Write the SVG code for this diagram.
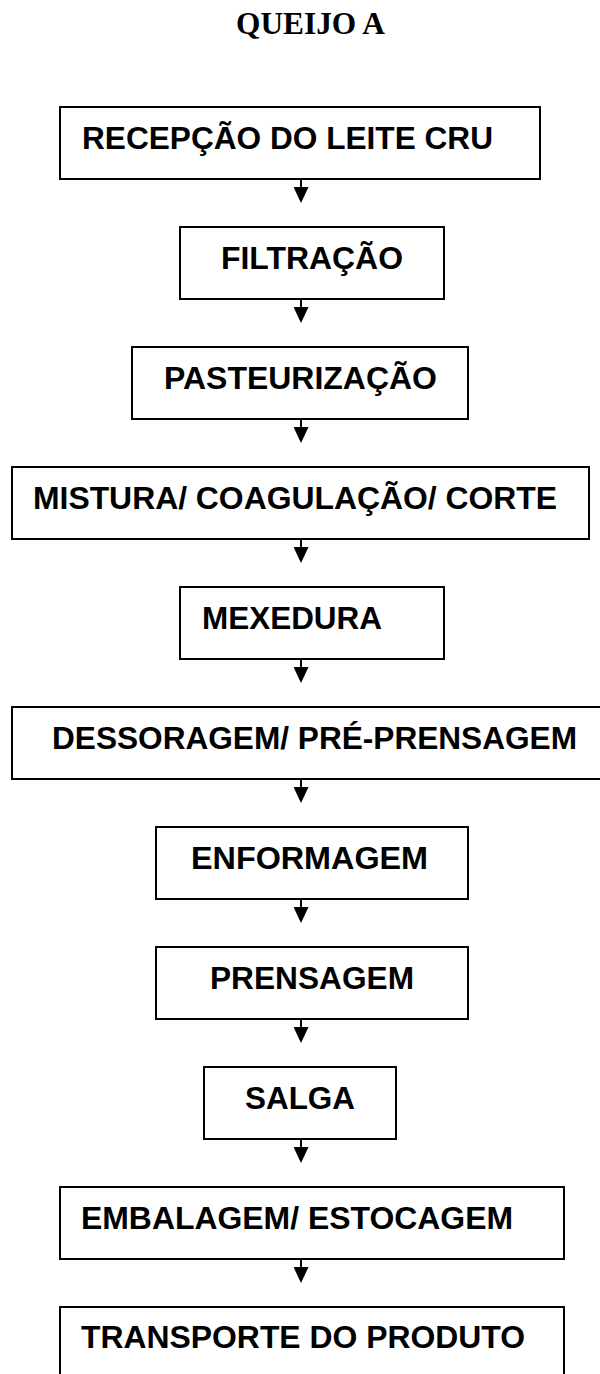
<svg xmlns="http://www.w3.org/2000/svg" width="600" height="1374" viewBox="0 0 600 1374">
<style>
.box{fill:#fff;stroke:#000;stroke-width:2}
.lbl{font-family:"Liberation Sans",Arial,sans-serif;font-weight:bold;font-size:31px;fill:#000}
.title{font-family:"Liberation Serif","Times New Roman",serif;font-weight:bold;font-size:31px;fill:#000}
.conn{stroke:#000;stroke-width:2;fill:none}
</style>
<defs>
<marker id="ah" markerUnits="userSpaceOnUse" viewBox="0 0 16 15" refX="4" refY="7.5" markerWidth="16" markerHeight="15" orient="auto">
<path d="M0,0 L16,7.5 L0,15 Z" fill="#000"/>
</marker>
</defs>
<rect width="600" height="1374" fill="#fff"/>
<text class="title" x="236" y="34" textLength="149" lengthAdjust="spacingAndGlyphs">QUEIJO A</text>
<g id="n1"><rect class="box" x="60" y="107" width="480" height="72"/><text class="lbl" x="82" y="149" textLength="411" lengthAdjust="spacingAndGlyphs">RECEPÇÃO DO LEITE CRU</text></g>
<g id="n2"><rect class="box" x="180" y="227" width="264" height="72"/><text class="lbl" x="221" y="269" textLength="182" lengthAdjust="spacingAndGlyphs">FILTRAÇÃO</text></g>
<g id="n3"><rect class="box" x="132" y="347" width="336" height="72"/><text class="lbl" x="164" y="389" textLength="273" lengthAdjust="spacingAndGlyphs">PASTEURIZAÇÃO</text></g>
<g id="n4"><rect class="box" x="12" y="467" width="577" height="72"/><text class="lbl" x="33" y="509" textLength="524" lengthAdjust="spacingAndGlyphs">MISTURA/ COAGULAÇÃO/ CORTE</text></g>
<g id="n5"><rect class="box" x="180" y="587" width="264" height="72"/><text class="lbl" x="202" y="629" textLength="180" lengthAdjust="spacingAndGlyphs">MEXEDURA</text></g>
<g id="n6"><rect class="box" x="12" y="707" width="593" height="72"/><text class="lbl" x="52" y="749" textLength="525" lengthAdjust="spacingAndGlyphs">DESSORAGEM/ PRÉ-PRENSAGEM</text></g>
<g id="n7"><rect class="box" x="156" y="827" width="312" height="72"/><text class="lbl" x="191" y="869" textLength="237" lengthAdjust="spacingAndGlyphs">ENFORMAGEM</text></g>
<g id="n8"><rect class="box" x="156" y="947" width="312" height="72"/><text class="lbl" x="210" y="989" textLength="204" lengthAdjust="spacingAndGlyphs">PRENSAGEM</text></g>
<g id="n9"><rect class="box" x="204" y="1067" width="192" height="72"/><text class="lbl" x="245" y="1109" textLength="110" lengthAdjust="spacingAndGlyphs">SALGA</text></g>
<g id="n10"><rect class="box" x="60" y="1187" width="504" height="72"/><text class="lbl" x="81" y="1229" textLength="432" lengthAdjust="spacingAndGlyphs">EMBALAGEM/ ESTOCAGEM</text></g>
<g id="n11"><rect class="box" x="60" y="1307" width="504" height="80"/><text class="lbl" x="81" y="1348" textLength="444" lengthAdjust="spacingAndGlyphs">TRANSPORTE DO PRODUTO</text></g>
<g id="connectors">
<line class="conn" x1="301" y1="179" x2="301" y2="191" marker-end="url(#ah)"/>
<line class="conn" x1="301" y1="299" x2="301" y2="311" marker-end="url(#ah)"/>
<line class="conn" x1="301" y1="419" x2="301" y2="431" marker-end="url(#ah)"/>
<line class="conn" x1="301" y1="539" x2="301" y2="551" marker-end="url(#ah)"/>
<line class="conn" x1="301" y1="659" x2="301" y2="671" marker-end="url(#ah)"/>
<line class="conn" x1="301" y1="779" x2="301" y2="791" marker-end="url(#ah)"/>
<line class="conn" x1="301" y1="899" x2="301" y2="911" marker-end="url(#ah)"/>
<line class="conn" x1="301" y1="1019" x2="301" y2="1031" marker-end="url(#ah)"/>
<line class="conn" x1="301" y1="1139" x2="301" y2="1151" marker-end="url(#ah)"/>
<line class="conn" x1="301" y1="1259" x2="301" y2="1271" marker-end="url(#ah)"/>
</g>
</svg>
